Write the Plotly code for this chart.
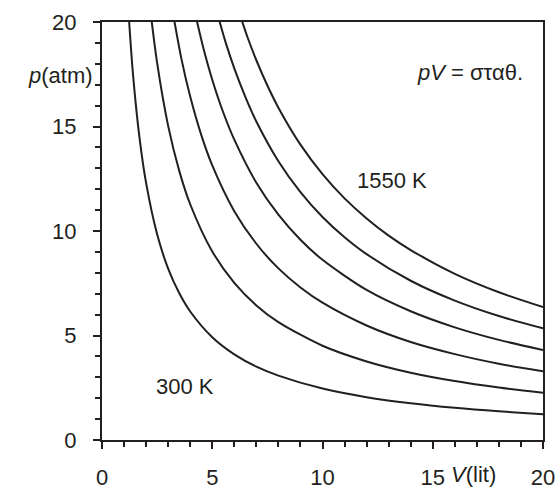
import plotly.graph_objects as go

# Isotherms (V in lit, p in atm)
temps = ["300 K", "550 K", "800 K", "1050 K", "1300 K", "1550 K"]

V_300 = [1.2, 1.4, 1.7, 2, 2.5, 3, 3.5, 4, 5, 6, 7, 8, 10, 12, 14, 16, 18, 20]
p_300 = [20.5, 17.57, 14.47, 12.3, 9.84, 8.2, 7.03, 6.15, 4.92, 4.1, 3.51, 3.08, 2.46, 2.05, 1.76, 1.54, 1.37, 1.23]

V_550 = [2.2, 2.5, 3, 3.5, 4, 5, 6, 7, 8, 10, 12, 14, 16, 18, 20]
p_550 = [20.5, 18.04, 15.03, 12.89, 11.28, 9.02, 7.52, 6.44, 5.64, 4.51, 3.76, 3.22, 2.82, 2.51, 2.26]

V_800 = [3.2, 3.6, 4, 4.5, 5, 6, 7, 8, 9, 10, 12, 14, 16, 18, 20]
p_800 = [20.53, 18.25, 16.43, 14.6, 13.14, 10.95, 9.39, 8.21, 7.3, 6.57, 5.48, 4.69, 4.11, 3.65, 3.29]

V_1050 = [4.2, 4.6, 5, 5.5, 6, 7, 8, 9, 10, 12, 14, 16, 18, 20]
p_1050 = [20.52, 18.74, 17.24, 15.67, 14.37, 12.31, 10.78, 9.58, 8.62, 7.18, 6.16, 5.39, 4.79, 4.31]

V_1300 = [5.2, 5.6, 6, 6.5, 7, 8, 9, 10, 11, 12, 14, 16, 18, 20]
p_1300 = [20.52, 19.05, 17.78, 16.42, 15.24, 13.34, 11.86, 10.67, 9.7, 8.89, 7.62, 6.67, 5.93, 5.34]

V_1550 = [6.2, 6.6, 7, 7.5, 8, 9, 10, 11, 12, 13, 14, 16, 18, 20]
p_1550 = [20.52, 19.27, 18.17, 16.96, 15.9, 14.13, 12.72, 11.56, 10.6, 9.78, 9.09, 7.95, 7.07, 6.36]

x_ticks = [0, 5, 10, 15, 20]
y_ticks = [0, 5, 10, 15, 20]

series = [(V_300, p_300), (V_550, p_550), (V_800, p_800),
          (V_1050, p_1050), (V_1300, p_1300), (V_1550, p_1550)]

INK = "#231f20"
FONT = "Liberation Sans"
FS = 22

fig = go.Figure()
for name, (vx, py) in zip(temps, series):
    fig.add_trace(go.Scatter(x=vx, y=py, mode="lines", name=name,
                             line=dict(color=INK, width=2, shape="spline", smoothing=0.8),
                             showlegend=False, hoverinfo="skip"))

axis_common = dict(showgrid=False, zeroline=False, showline=True, linecolor=INK,
                   linewidth=2, mirror=True, ticks="outside", ticklen=7, tickwidth=2,
                   tickcolor=INK, tickfont=dict(family=FONT, size=FS, color=INK),
                   automargin=False,
                   minor=dict(dtick=1, ticks="outside", ticklen=5, tickwidth=2, tickcolor=INK))

fig.update_xaxes(range=[0, 20], tickvals=x_ticks, ticktext=[str(t) for t in x_ticks],
                 ticklabelstandoff=10, **axis_common)
fig.update_yaxes(range=[0, 20], tickvals=y_ticks, ticktext=[str(t) for t in y_ticks],
                 ticklabelstandoff=12, **axis_common)

fig.update_layout(
    width=557, height=489,
    margin=dict(l=102, r=14, t=22, b=49, autoexpand=False),
    plot_bgcolor="white", paper_bgcolor="white",
    font=dict(family=FONT, color=INK),
)

ann_font = dict(family=FONT, size=FS, color=INK)
fig.add_annotation(text="<i>p</i>(atm)", xref="paper", yref="y", x=-0.016, y=17.45,
                   xanchor="right", yanchor="middle", showarrow=False, font=ann_font)
fig.add_annotation(text="<i>V</i>(lit)", xref="x", yref="paper", x=16.83, y=-0.082,
                   xanchor="center", yanchor="middle", showarrow=False, font=ann_font)
fig.add_annotation(text="<i>pV</i> = σταθ.", xref="x", yref="y", x=19.2, y=17.6,
                   xanchor="right", yanchor="middle", showarrow=False, font=ann_font)
fig.add_annotation(text="1550 K", xref="x", yref="y", x=13.15, y=12.44,
                   xanchor="center", yanchor="middle", showarrow=False, font=ann_font)
fig.add_annotation(text="300 K", xref="x", yref="y", x=3.76, y=2.58,
                   xanchor="center", yanchor="middle", showarrow=False, font=ann_font)

fig.write_html("out.html", config={"displayModeBar": False},
               post_script="document.body.style.margin='0';document.body.style.overflow='hidden';")
